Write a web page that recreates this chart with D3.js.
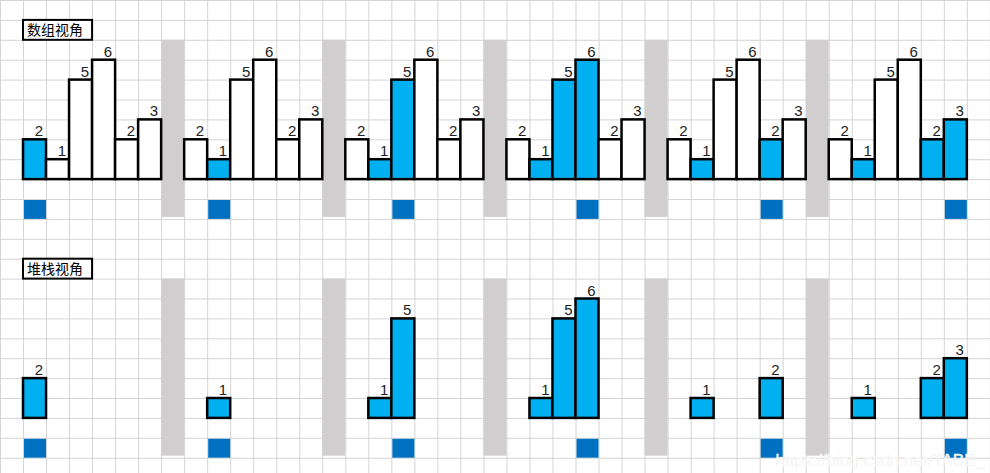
<!DOCTYPE html>
<html><head><meta charset="utf-8">
<script src="https://cdn.jsdelivr.net/npm/d3@7"></script>
<style>body{margin:0;background:#fff}</style>
</head><body>
<svg id="c" width="990" height="473"></svg>
<script>
// array values and the monotonic stack (indices) after each step
const heights = [2, 1, 5, 6, 2, 3];
const stackSteps = [[0], [1], [1, 2], [1, 2, 3], [1, 4], [1, 4, 5]];
const titles = ["数组视角", "堆栈视角"];

const svg = d3.select("#c");
const cols = 43, rows = 24;
const x = d3.scaleLinear().domain([0, cols]).range([0, cols * 23.02]);
const y = d3.scaleLinear().domain([0, rows]).range([0, rows * 19.9]);

// sheet grid
svg.append("g").selectAll("line.v").data(d3.range(cols + 1)).join("line")
  .attr("x1", d => x(d) + 0.5).attr("x2", d => x(d) + 0.5)
  .attr("y1", 0).attr("y2", 473).attr("stroke", "#d4d4d4");
svg.append("g").selectAll("line.h").data(d3.range(rows + 1)).join("line")
  .attr("y1", d => y(d) + 0.5).attr("y2", d => y(d) + 0.5)
  .attr("x1", 0).attr("x2", 990).attr("stroke", "#d4d4d4");

function panel(top, stackView, title) {
  // title box
  svg.append("rect").attr("x", x(1)).attr("y", y(top)).attr("width", x(3)).attr("height", y(1))
    .attr("fill", "#fff").attr("stroke", "#000").attr("stroke-width", 2);
  svg.append("text").attr("x", x(1) + 4).attr("y", y(top) + 15).text(title)
    .attr("font-family", "Noto Sans CJK SC").attr("font-size", 14);
  const base = top + 8;
  stackSteps.forEach((st, k) => {
    const c0 = 1 + 7 * k;
    // separator
    if (k < 5) svg.append("rect").attr("x", x(c0 + 6)).attr("y", y(top + 1))
      .attr("width", x(1)).attr("height", y(9) - 2).attr("fill", "#d0cece");
    const idx = stackView ? st : d3.range(heights.length);
    const g = svg.append("g");
    g.selectAll("rect").data(idx).join("rect")
      .attr("x", i => x(c0 + i)).attr("y", i => y(base - heights[i]))
      .attr("width", x(1)).attr("height", i => y(heights[i]))
      .attr("fill", i => st.includes(i) ? "#00b0f0" : "#fff")
      .attr("stroke", "#000").attr("stroke-width", 2.5);
    g.selectAll("text").data(idx).join("text")
      .attr("x", i => x(c0 + i + 1) - 3).attr("y", i => y(base - heights[i]) - 3)
      .attr("text-anchor", "end").attr("font-family", "Liberation Sans").attr("font-size", 15)
      .attr("fill", "#222").text(i => heights[i]);
    // current index marker
    svg.append("rect").attr("x", x(c0 + k) + 1).attr("y", y(base + 1) + 1)
      .attr("width", x(1) - 1).attr("height", y(1) - 1).attr("fill", "#0070c0");
  });
}
panel(1, false, titles[0]);
panel(13, true, titles[1]);

svg.append("text").attr("x", 985).attr("y", 466).attr("text-anchor", "end")
  .attr("font-family", "Liberation Sans").attr("font-size", 17).attr("fill", "#eee")
  .attr("stroke", "#fff").attr("stroke-width", 0.5).text("https://blog.csdn.net/TABE_");
</script>
</body></html>
